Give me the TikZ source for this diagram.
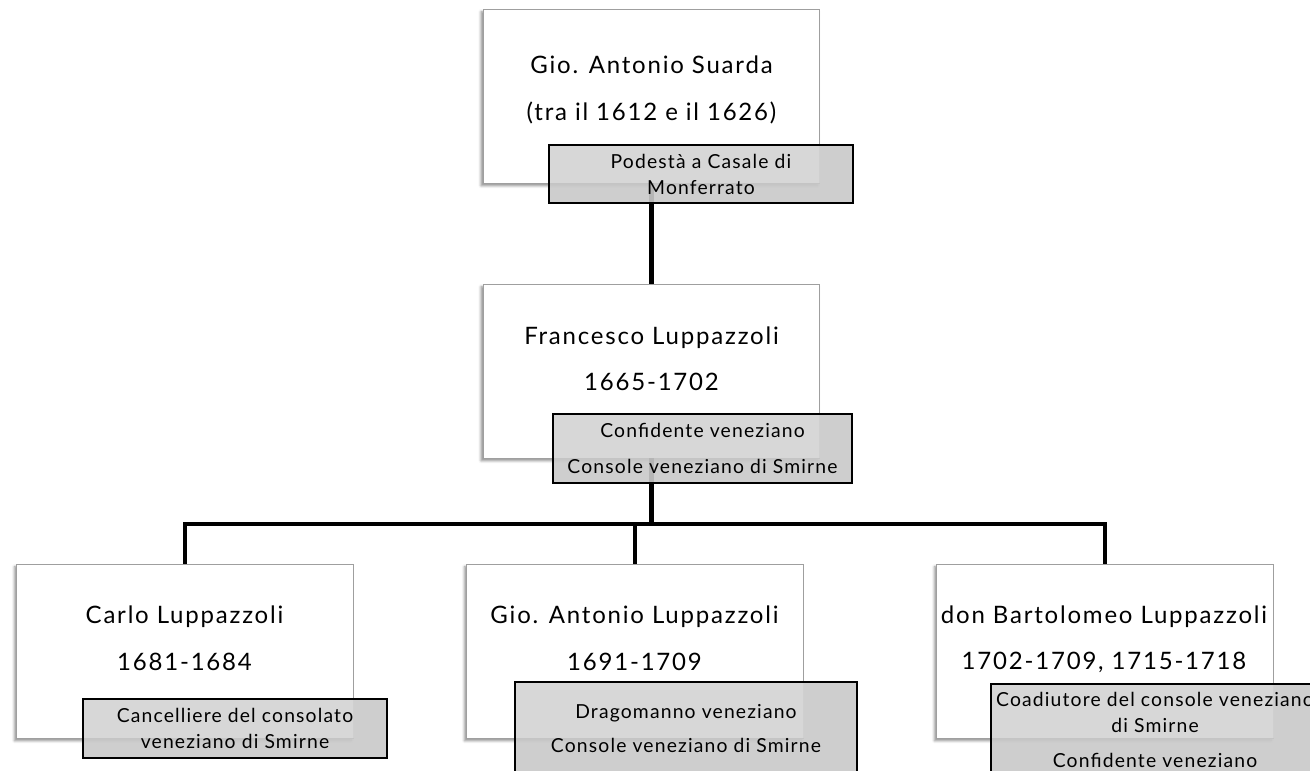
\documentclass[tikz,border=0pt]{standalone}
\usepackage{fontspec}
\setmainfont{Lato}
\newfontfamily\namefont[LetterSpace=7.5]{Lato}
\newfontfamily\tagfont[LetterSpace=6]{Lato}
\usetikzlibrary{shadows.blur}
\pgfdeclarelayer{base}
\pgfdeclarelayer{background}
\pgfsetlayers{base,background,main}
\tikzset{
  person/.style={rectangle, draw=gray!75, line width=0.6pt, fill=white, inner sep=0pt,
    minimum width=252.5pt, minimum height=130.5pt,
    blur shadow={shadow xshift=-1.6pt, shadow yshift=-2pt, shadow blur radius=2pt, shadow opacity=45}},
  who/.style={align=center, inner sep=0pt, font=\namefont\fontsize{18}{21}\selectfont},
  role/.style={rectangle, draw=black, line width=1.5pt, inner sep=0pt, align=center,
    font=\tagfont\fontsize{14.5}{19.5}\selectfont},
  rolefill/.style={fill=black!21, fill opacity=0.9},
  lift/.style={fill=white, fill opacity=0.2},
  link/.style={line width=3.2pt, black}
}
\begin{document}
\begin{tikzpicture}[x=0.75pt, y=-0.75pt]
\useasboundingbox (0,0) rectangle (1310,771);
\clip (0,0) rectangle (1310,771);

% person boxes and family links
\begin{pgfonlayer}{base}
  \node[person] (p0) at (651.5,96) {};
  \node[person] (p1) at (651.5,371) {};
  \node[person] (c1) at (185,651) {};
  \node[person] (c2) at (635,651) {};
  \node[person] (c3) at (1105,651) {};
  \coordinate (bar) at (651.5,524);
  \draw[link] (p0.south) -- (p1.north);
  \draw[link] (p1.south) -- (bar);
  \draw[link] (bar) -| (c1.north);
  \draw[link] (bar) -| (c3.north);
  \draw[link] (bar -| c2.north) -- (c2.north);
\end{pgfonlayer}

% names and dates
\node[who] at (651.5,65) {Gio. Antonio Suarda};
\node[who] at (651.5,113) {(tra il 1612 e il 1626)};
\node[who] at (651.5,338) {Francesco Luppazzoli};
\node[who] at (651.5,382) {1665-1702};
\node[who] at (184.5,617) {Carlo Luppazzoli};
\node[who] at (184.5,662) {1681-1684};
\node[who] at (634.5,617) {Gio. Antonio Luppazzoli};
\node[who] at (634.5,662) {1691-1709};
\node[who] at (1104,617) {don Bartolomeo Luppazzoli};
\node[who] at (1104,662) {1702-1709, 1715-1718};

% office tags
\node[role, minimum width=228pt, minimum height=43.5pt] (r0) at (701,174)
  {Podestà a Casale di\\Monferrato};
\node[role, minimum width=224.25pt, minimum height=51.75pt] (r1) at (702.5,448.5)
  {Confidente veneziano\\[7.5pt]Console veneziano di Smirne};
\node[role, minimum width=228pt, minimum height=44.25pt] (r2) at (235,728.5)
  {Cancelliere del consolato\\veneziano di Smirne};
\node[role, minimum width=256.5pt, minimum height=70.5pt] (r3) at (686,729)
  {Dragomanno veneziano\\[6pt]Console veneziano di Smirne};
\node[role, minimum width=246pt, minimum height=69pt] (r4) at (1155,730)
  {Coadiutore del console veneziano\\di Smirne\\[6.5pt]Confidente veneziano};

\begin{pgfonlayer}{background}
  \foreach \r/\p in {r0/p0, r1/p1, r2/c1, r3/c2, r4/c3} {
    \fill[rolefill] (\r.south west) rectangle (\r.north east);
    \fill[lift] (\r.north west) rectangle (\p.south east);
  }
\end{pgfonlayer}
\end{tikzpicture}
\end{document}
